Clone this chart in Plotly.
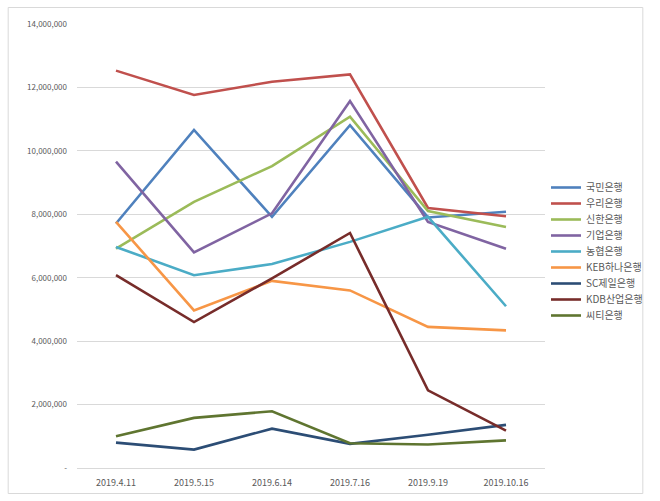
import plotly.graph_objects as go

dates = ["2019.4.11", "2019.5.15", "2019.6.14", "2019.7.16", "2019.9.19", "2019.10.16"]

kookmin = [7710000, 10660000, 7920000, 10810000, 7900000, 8080000]
woori = [12530000, 11760000, 12180000, 12410000, 8200000, 7940000]
shinhan = [6920000, 8390000, 9520000, 11080000, 8100000, 7600000]
ibk = [9660000, 6800000, 8030000, 11570000, 7760000, 6910000]
nh = [6970000, 6080000, 6430000, 7130000, 7920000, 5100000]
keb = [7760000, 4970000, 5900000, 5600000, 4450000, 4340000]
sc = [800000, 580000, 1240000, 760000, 1050000, 1360000]
kdb = [6080000, 4600000, 5980000, 7410000, 2450000, 1180000]
citi = [1000000, 1580000, 1790000, 780000, 740000, 870000]

series_names = ["국민은행", "우리은행", "신한은행", "기업은행", "농협은행",
                "KEB하나은행", "SC제일은행", "KDB산업은행", "씨티은행"]
series_values = [kookmin, woori, shinhan, ibk, nh, keb, sc, kdb, citi]
colors = ["#4F81BD", "#C0504D", "#9BBB59", "#8064A2", "#4BACC6",
          "#F79646", "#2C4D75", "#772C2A", "#5F7530"]

y_tickvals = [0, 2000000, 4000000, 6000000, 8000000, 10000000, 12000000, 14000000]
y_ticktext = ["-", "2,000,000", "4,000,000", "6,000,000", "8,000,000",
              "10,000,000", "12,000,000", "14,000,000"]

FONT = "Noto Sans CJK KR, Open Sans, sans-serif"

L, R, T, B = 77, 107, 24, 33
W, H = 660, 501
pw = W - L - R
ph = H - T - B

fig = go.Figure()
legends = {}
for i, (name, vals, c) in enumerate(zip(series_names, series_values, colors)):
    key = "legend" if i == 0 else f"legend{i + 1}"
    fig.add_trace(go.Scatter(x=dates, y=vals, name=name, mode="lines",
                             line=dict(color=c, width=2.6), legend=key))
    ypix = 187 + 16 * i
    legends[key] = dict(x=(554 - L) / pw, y=(467.5 - ypix) / ph,
                        xanchor="left", yanchor="middle",
                        font=dict(family=FONT, size=10, color="#595959"),
                        bgcolor="rgba(0,0,0,0)", borderwidth=0)

fig.update_layout(
    width=W, height=H,
    margin=dict(l=L, r=R, t=T, b=B),
    paper_bgcolor="white", plot_bgcolor="white",
    font=dict(family=FONT, size=9, color="#595959"),
    showlegend=True,
    xaxis=dict(type="category", range=[-0.5, len(dates) - 0.5], showgrid=False,
               showline=True, linecolor="#d9d9d9",
               linewidth=1, ticks="", tickfont=dict(size=9, color="#595959"),
               ticklabelstandoff=6, fixedrange=True),
    yaxis=dict(range=[0, 14000000], tickvals=y_tickvals, ticktext=y_ticktext,
               showgrid=True, gridcolor="#d9d9d9", gridwidth=1, zeroline=False,
               showline=False, ticks="", tickfont=dict(size=8, color="#595959"),
               ticklabelstandoff=9, fixedrange=True),
    shapes=[dict(type="rect", xref="paper", yref="paper",
                 x0=(7 - L) / pw, x1=(652.5 - L) / pw,
                 y0=(467.5 - 493) / ph, y1=(467.5 - 7) / ph,
                 line=dict(color="#d9d9d9", width=1), fillcolor="rgba(0,0,0,0)",
                 layer="above")],
    **legends,
)

fig.write_html("out.html", config={"displayModeBar": False},
               post_script="document.body.style.margin='0';document.body.style.overflow='hidden';")
